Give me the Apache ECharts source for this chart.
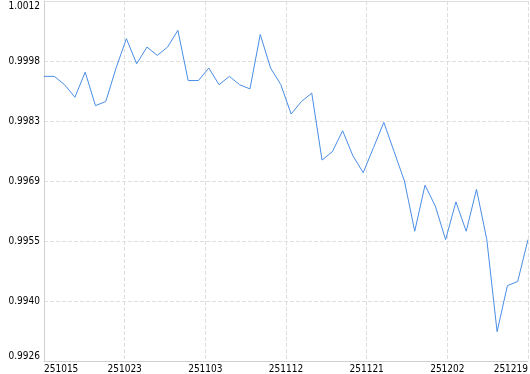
<!DOCTYPE html>
<html>
<head>
<meta charset="utf-8">
<script src="https://cdn.jsdelivr.net/npm/echarts@6/dist/echarts.min.js"></script>
<style>
html,body{margin:0;padding:0;background:#fff;}
#chart{width:530px;height:374px;}
</style>
</head>
<body>
<div id="chart"></div>
<script>
// Dates (category of each point)
var dates = [
  '251015','251016','251017','251018','251019','251020','251021','251022','251023','251024',
  '251025','251027','251028','251029','251030','251031','251103','251104','251105','251106',
  '251107','251108','251110','251111','251112','251113','251114','251115','251117','251118',
  '251119','251121','251122','251124','251125','251126','251127','251128','251201','251202',
  '251203','251205','251208','251210','251212','251215','251217','251219'
];
// Series values
var values = [
  0.9994, 0.9994, 0.9992, 0.9989, 0.9995, 0.9987, 0.9988, 0.9996, 1.0003, 0.9997,
  1.0001, 0.9999, 1.0001, 1.0005, 0.9993, 0.9993, 0.9996, 0.9992, 0.9994, 0.9992,
  0.9991, 1.0004, 0.9996, 0.9992, 0.9985, 0.9988, 0.9990, 0.9974, 0.9976, 0.9981,
  0.9975, 0.9971, 0.9977, 0.9983, 0.9976, 0.9969, 0.9957, 0.9968, 0.9963, 0.9955,
  0.9964, 0.9957, 0.9967, 0.9955, 0.9933, 0.9944, 0.9945, 0.9955
];
// Y axis range
var yMin = 0.9926;
var yMax = 1.0012;
var ySteps = 6;
var xSteps = 6;

var yInterval = (yMax - yMin) / ySteps;
var chart = echarts.init(document.getElementById('chart'), null, {renderer: 'canvas'});
var font = "'DejaVu Sans Condensed', 'DejaVu Sans', sans-serif";
var seriesData = values.map(function (v, i) { return [i, v]; });

chart.setOption({
  animation: false,
  backgroundColor: '#fff',
  grid: {left: 44, right: 2, top: 1, bottom: 13, containLabel: false, outerBoundsMode: 'none'},
  xAxis: [{
    type: 'value',
    min: 0,
    max: dates.length - 1,
    interval: (dates.length - 1) / xSteps,
    axisLine: {show: true, lineStyle: {color: '#cfcfcf', width: 1}},
    axisTick: {show: false},
    axisLabel: {
      show: true,
      margin: 3,
      fontSize: 10,
      fontFamily: font,
      color: '#000',
      alignMinLabel: 'left',
      alignMaxLabel: 'right',
      formatter: function (v) { return dates[Math.round(v)]; }
    },
    splitLine: {show: true, lineStyle: {color: '#dedede', type: [4, 2], width: 1}}
  }, {
    type: 'value',
    position: 'top',
    min: 0,
    max: dates.length - 1,
    axisLine: {show: true, onZero: false, lineStyle: {color: '#dcdcdc', width: 1}},
    axisTick: {show: false},
    axisLabel: {show: false},
    splitLine: {show: false}
  }],
  yAxis: {
    type: 'value',
    min: yMin,
    max: yMax,
    interval: yInterval,
    axisLine: {show: true, lineStyle: {color: '#cfcfcf', width: 1}},
    axisTick: {show: false},
    axisLabel: {
      show: true,
      margin: 4,
      fontSize: 10,
      fontFamily: font,
      color: '#000',
      verticalAlignMinLabel: 'bottom',
      verticalAlignMaxLabel: 'top',
      formatter: function (v) { return v.toFixed(4); }
    },
    splitLine: {show: true, lineStyle: {color: '#dedede', type: [4, 2], width: 1}}
  },
  series: [{
    type: 'line',
    xAxisIndex: 0,
    data: seriesData,
    showSymbol: false,
    symbol: 'none',
    lineStyle: {color: '#4a8ee6', width: 1},
    emphasis: {disabled: true}
  }]
});
</script>
</body>
</html>
